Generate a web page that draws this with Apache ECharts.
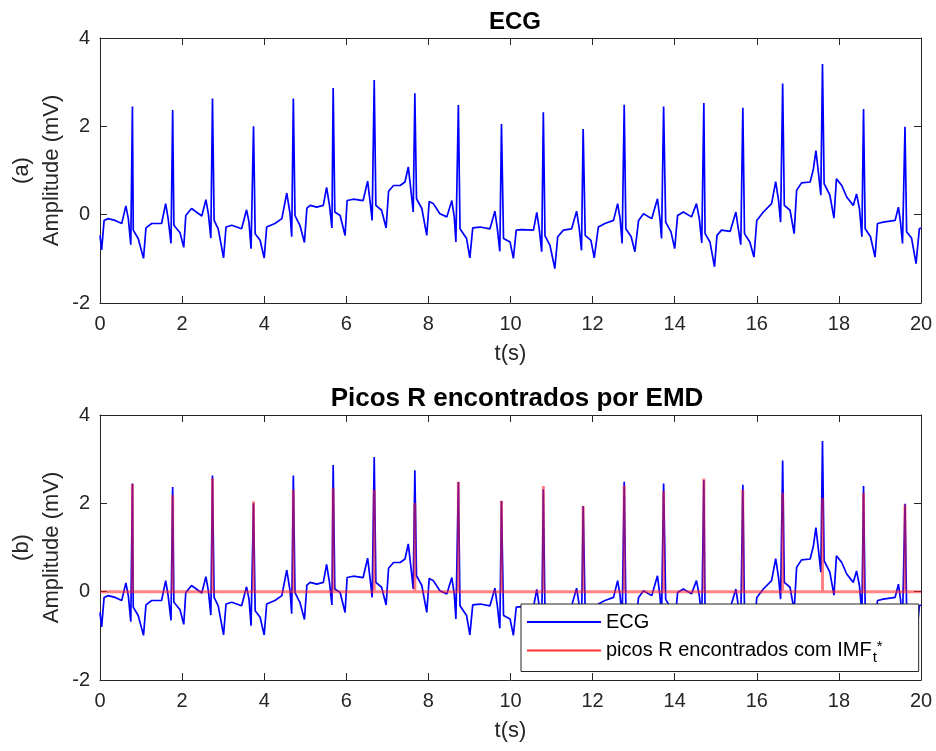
<!DOCTYPE html>
<html>
<head>
<meta charset="utf-8">
<script src="https://cdn.jsdelivr.net/npm/echarts@6/dist/echarts.min.js"></script>
<style>
html,body{margin:0;padding:0;background:#fff;}
#chart{width:936px;height:751px;}
</style>
</head>
<body>
<div id="chart"></div>
<script>
// ECG trace [t (s), amplitude (mV)]
const ecgPoints = [
[0.00,-0.47],[0.04,-0.80],[0.10,-0.13],[0.20,-0.09],[0.37,-0.13],[0.53,-0.20],[0.63,0.20],[0.69,-0.09],[0.75,-0.68],[0.79,2.45],[0.81,-0.35],[0.93,-0.54],[1.06,-0.99],[1.12,-0.30],[1.26,-0.20],[1.50,-0.20],[1.60,0.25],[1.66,-0.09],[1.73,-0.65],[1.77,2.37],[1.80,-0.24],[1.95,-0.41],[2.04,-0.74],[2.09,-0.02],[2.23,0.14],[2.48,-0.03],[2.58,0.34],[2.64,0.02],[2.70,-0.53],[2.74,2.63],[2.78,-0.13],[2.88,-0.32],[3.01,-0.98],[3.07,-0.28],[3.21,-0.24],[3.45,-0.32],[3.57,0.11],[3.63,-0.17],[3.68,-0.77],[3.74,2.00],[3.78,-0.43],[3.90,-0.58],[4.00,-0.98],[4.06,-0.28],[4.26,-0.20],[4.43,-0.09],[4.55,0.49],[4.63,0.02],[4.67,-0.50],[4.71,2.63],[4.75,-0.02],[4.87,-0.24],[4.98,-0.63],[5.04,0.15],
[5.12,0.21],[5.28,0.17],[5.44,0.21],[5.52,0.62],[5.59,0.21],[5.65,-0.30],[5.68,2.87],[5.72,0.06],[5.85,-0.02],[5.97,-0.47],[6.02,0.32],[6.17,0.35],[6.41,0.32],[6.52,0.76],[6.58,0.29],[6.63,-0.13],[6.68,3.05],[6.72,0.21],[6.86,0.10],[6.97,-0.30],[7.03,0.53],[7.15,0.66],[7.31,0.66],[7.43,0.74],[7.51,1.08],[7.57,0.59],[7.63,0.06],[7.67,2.75],[7.71,0.36],[7.84,0.14],[7.96,-0.47],[8.02,0.30],[8.12,0.25],[8.28,0.02],[8.45,-0.05],[8.57,0.32],[8.63,-0.05],[8.67,-0.62],[8.73,2.48],[8.77,-0.32],[8.93,-0.54],[9.01,-0.98],[9.08,-0.30],[9.26,-0.28],[9.50,-0.32],[9.62,0.08],[9.68,-0.32],[9.74,-0.83],[9.78,2.05],[9.83,-0.54],[9.99,-0.62],[10.07,-0.99],[10.14,-0.35],
[10.27,-0.34],[10.56,-0.35],[10.64,0.05],[10.70,-0.32],[10.76,-0.84],[10.80,2.32],[10.84,-0.48],[10.96,-0.69],[11.08,-1.22],[11.15,-0.50],[11.29,-0.35],[11.49,-0.32],[11.61,0.08],[11.67,-0.28],[11.73,-0.81],[11.77,1.94],[11.82,-0.47],[11.96,-0.58],[12.04,-0.98],[12.14,-0.28],[12.30,-0.20],[12.51,-0.13],[12.61,0.25],[12.67,-0.09],[12.72,-0.65],[12.77,2.49],[12.81,-0.32],[12.94,-0.50],[13.03,-0.84],[13.12,-0.13],[13.24,0.02],[13.44,-0.09],[13.58,0.36],[13.64,-0.09],[13.68,-0.54],[13.73,2.45],[13.78,-0.17],[13.91,-0.39],[14.00,-0.77],[14.07,-0.02],[14.21,0.06],[14.41,-0.05],[14.53,0.25],[14.60,-0.09],[14.66,-0.64],[14.71,2.53],[14.74,-0.43],[14.86,-0.62],[14.97,-1.18],[15.03,-0.47],
[15.14,-0.35],[15.35,-0.38],[15.49,0.06],[15.55,-0.32],[15.61,-0.68],[15.66,2.42],[15.70,-0.43],[15.83,-0.62],[15.93,-0.96],[16.00,-0.13],[16.16,0.06],[16.36,0.25],[16.46,0.75],[16.53,0.32],[16.58,-0.17],[16.63,2.97],[16.67,0.21],[16.81,0.10],[16.91,-0.43],[16.97,0.55],[17.09,0.72],[17.30,0.74],[17.38,1.04],[17.44,1.45],[17.50,0.96],[17.56,0.44],[17.60,3.41],[17.64,0.70],[17.78,0.44],[17.88,-0.08],[17.94,0.81],[18.07,0.66],[18.19,0.40],[18.35,0.21],[18.43,0.47],[18.50,0.14],[18.56,-0.50],[18.60,2.39],[18.64,-0.32],[18.77,-0.50],[18.88,-0.96],[18.94,-0.20],[19.08,-0.17],[19.37,-0.13],[19.45,0.17],[19.50,-0.17],[19.55,-0.65],[19.61,1.99],[19.65,-0.39],[19.77,-0.53],[19.88,-1.11],[19.96,-0.32],[20.00,-0.30]
];

// R peaks found (time of peak, detected amplitude)
const rPeakTimes = [0.79,1.77,2.74,3.74,4.71,5.68,6.68,7.67,8.73,9.78,10.80,11.77,12.77,13.73,14.71,15.66,16.63,17.60,18.60,19.61];
const rPeakFound = [2.44,2.19,2.57,2.05,2.31,2.34,2.31,2.01,2.49,2.06,2.39,1.94,2.41,2.28,2.56,2.31,2.24,2.12,2.24,1.97];

const xTicks = [0,2,4,6,8,10,12,14,16,18,20];
const yTicks = [-2,0,2,4];
const titles = ['ECG', 'Picos R encontrados por EMD'];
const yNames = ['(a)\nAmplitude (mV)', '(b)\nAmplitude (mV)'];
const xName = 't(s)';
const legendNames = ['ECG', 'picos R encontrados com IMF'];

const FONT = '"Liberation Sans", Arial, Helvetica, sans-serif';
const AX = '#262626';

// red detection trace: zero everywhere except spikes at R peaks
const redData = [[xTicks[0], 0]];
rPeakTimes.forEach((t, i) => {
  redData.push([t, 0], [t, rPeakFound[i]], [t, 0]);
});
redData.push([xTicks[xTicks.length - 1], 0]);

const grids = [
  {left: 100, top: 38, width: 821, height: 265, outerBoundsMode: 'none', containLabel: false},
  {left: 100, top: 415, width: 821, height: 265, outerBoundsMode: 'none', containLabel: false}
];

function xAx(g, mirror) {
  return {
    type: 'value', gridIndex: g, position: mirror ? 'top' : 'bottom',
    min: xTicks[0], max: xTicks[xTicks.length - 1], interval: 2,
    name: mirror ? '' : xName, nameLocation: 'middle', nameGap: 40,
    nameTextStyle: {fontFamily: FONT, fontSize: 22, color: AX},
    axisLine: {show: true, onZero: false, lineStyle: {color: AX, width: 1}},
    axisTick: {show: true, inside: true, length: 7, lineStyle: {color: AX}},
    axisLabel: {show: !mirror, margin: 11, fontFamily: FONT, fontSize: 20, color: AX},
    splitLine: {show: false}
  };
}
function yAx(g, mirror) {
  return {
    type: 'value', gridIndex: g, position: mirror ? 'right' : 'left',
    min: yTicks[0], max: yTicks[yTicks.length - 1], interval: 2,
    name: mirror ? '' : yNames[g], nameLocation: 'middle', nameGap: 33, nameRotate: 90,
    nameMoveOverlap: false,
    nameTextStyle: {fontFamily: FONT, fontSize: 22, color: AX, lineHeight: 30, align: 'center'},
    axisLine: {show: true, onZero: false, lineStyle: {color: AX, width: 1}},
    axisTick: {show: true, inside: true, length: 7, lineStyle: {color: AX}},
    axisLabel: {show: !mirror, margin: 10, fontFamily: FONT, fontSize: 20, color: AX},
    splitLine: {show: false}
  };
}

const chart = echarts.init(document.getElementById('chart'), null, {renderer: 'canvas'});
chart.setOption({
  animation: false,
  backgroundColor: '#fff',
  title: [
    {text: titles[0], left: 510, top: 5, textAlign: 'center',
     textStyle: {fontFamily: FONT, fontSize: 24, fontWeight: 'bold', color: '#000'}},
    {text: titles[1], left: 512, top: 381, textAlign: 'center',
     textStyle: {fontFamily: FONT, fontSize: 26, fontWeight: 'bold', color: '#000'}}
  ],
  grid: grids,
  xAxis: [xAx(0, false), xAx(0, true), xAx(1, false), xAx(1, true)],
  yAxis: [yAx(0, false), yAx(0, true), yAx(1, false), yAx(1, true)],
  legend: {
    orient: 'vertical', left: 521, top: 604,
    data: [
      {name: legendNames[0], icon: 'rect', itemStyle: {color: '#0000ff'}},
      {name: legendNames[1], icon: 'rect', itemStyle: {color: '#ff3030'}}
    ],
    itemWidth: 74, itemHeight: 2, itemGap: 7,
    backgroundColor: '#fff', borderColor: '#262626', borderWidth: 1,
    padding: [8, 36, 6, 6],
    formatter: function (name) {
      return name === legendNames[1] ? name + '{sub|t}{sup|*}' : name;
    },
    textStyle: {
      fontFamily: FONT, fontSize: 20, color: '#000',
      rich: {
        sub: {fontFamily: FONT, fontSize: 15, color: '#000', padding: [15, 0, 0, 1]},
        sup: {fontFamily: FONT, fontSize: 15, color: '#000', padding: [0, 0, 8, 0]}
      }
    },
    z: 10
  },
  series: [
    {name: legendNames[0], type: 'line', xAxisIndex: 0, yAxisIndex: 0, data: ecgPoints,
     showSymbol: false, symbol: 'none', lineStyle: {color: '#0000ff', width: 1.7},
     itemStyle: {color: '#0000ff'}},
    {name: legendNames[0], type: 'line', xAxisIndex: 2, yAxisIndex: 2, data: ecgPoints,
     showSymbol: false, symbol: 'none', lineStyle: {color: '#0000ff', width: 1.7},
     itemStyle: {color: '#0000ff'}},
    {name: legendNames[1], type: 'line', xAxisIndex: 2, yAxisIndex: 2, data: redData,
     showSymbol: false, symbol: 'none', lineStyle: {color: 'rgba(255,30,30,0.55)', width: 3},
     itemStyle: {color: '#ff3030'}}
  ]
});
</script>
</body>
</html>
